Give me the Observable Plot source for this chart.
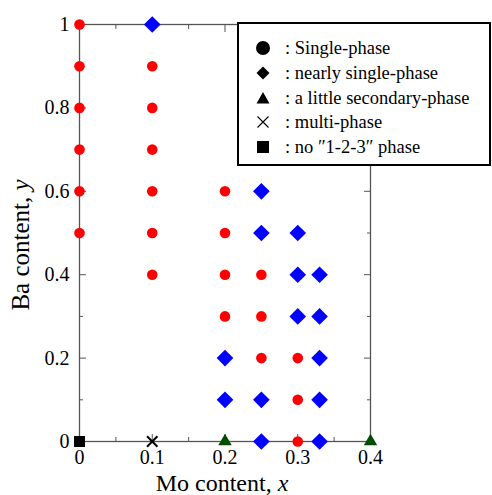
<!DOCTYPE html>
<html>
<head>
<meta charset="utf-8">
<script src="https://cdn.jsdelivr.net/npm/d3@7"></script>
<script src="https://cdn.jsdelivr.net/npm/@observablehq/plot@0.6"></script>
<style>
  body { margin: 0; background: #fff; }
  #wrap { position: relative; width: 492px; height: 495px; overflow: hidden;
          font-family: "Liberation Serif", "Times New Roman", serif; }
  #wrap > svg { position: absolute; left: 0; top: 0; }
  #legend { position: absolute; left: 237px; top: 22px; width: 254px; height: 144px;
            box-sizing: border-box; border: 2px solid #000; background: #fff; }
  .row { position: absolute; left: 0; height: 24px; display: flex; align-items: center;
         font-family: "Liberation Serif", serif; font-size: 18.5px; color: #000; white-space: nowrap; }
  .row svg { display: block; }
</style>
</head>
<body>
<div id="wrap"></div>
<script>
// ---- data (Mo content x, Ba content y) ----
const singlePhase = [
  [0, 0.5], [0, 0.6], [0, 0.7], [0, 0.8], [0, 0.9], [0, 1.0],
  [0.1, 0.4], [0.1, 0.5], [0.1, 0.6], [0.1, 0.7], [0.1, 0.8], [0.1, 0.9],
  [0.2, 0.3], [0.2, 0.4], [0.2, 0.5], [0.2, 0.6],
  [0.25, 0.2], [0.25, 0.3], [0.25, 0.4],
  [0.3, 0.0], [0.3, 0.1], [0.3, 0.2]
];
const nearlySinglePhase = [
  [0.1, 1.0],
  [0.2, 0.1], [0.2, 0.2],
  [0.25, 0.0], [0.25, 0.1], [0.25, 0.5], [0.25, 0.6],
  [0.3, 0.3], [0.3, 0.4], [0.3, 0.5],
  [0.33, 0.0], [0.33, 0.1], [0.33, 0.2], [0.33, 0.3], [0.33, 0.4]
];
const littleSecondaryPhase = [[0.2, 0.0], [0.4, 0.0]];
const multiPhase = [[0.1, 0.0]];
const no123Phase = [[0, 0.0]];

const legendLabels = [": Single-phase", ": nearly single-phase", ": a little secondary-phase", ": multi-phase", ": no \u20331-2-3\u2033 phase"];

const xMajorTicks = [0, 0.1, 0.2, 0.3, 0.4];
const xMinorTicks = [0.05, 0.15, 0.25, 0.35];
const yMajorTicks = [0, 0.2, 0.4, 0.6, 0.8, 1];
const yMinorTicks = [0.1, 0.3, 0.5, 0.7, 0.9];
const xTickLabels = ["0", "0.1", "0.2", "0.3", "0.4"];
const yTickLabels = ["0", "0.2", "0.4", "0.6", "0.8", "1"];

const RED = "#ff0000", BLUE = "#0000ff", GREEN = "#004d00", FRAME = "#555";
const FONT = '"Liberation Serif", "Times New Roman", serif';

const px = d => d[0], py = d => d[1];

const chart = Plot.plot({
  width: 492, height: 495,
  marginLeft: 79, marginRight: 122, marginTop: 24, marginBottom: 54,
  x: { domain: [0, 0.4] },
  y: { domain: [0, 1] },
  style: { fontFamily: FONT, fontSize: "20px", color: "#000", background: "transparent", overflow: "visible" },
  marks: [
    Plot.frame({ stroke: FRAME, strokeWidth: 1.3 }),
    // inward ticks
    Plot.axisY(yMajorTicks, { anchor: "left", tickSize: 7, dx: 7, fill: "none", stroke: FRAME }),
    Plot.axisY(yMinorTicks, { anchor: "left", tickSize: 4, dx: 4, fill: "none", stroke: FRAME }),
    Plot.axisY(yMajorTicks, { anchor: "right", tickSize: 7, dx: -7, fill: "none", stroke: FRAME }),
    Plot.axisY(yMinorTicks, { anchor: "right", tickSize: 4, dx: -4, fill: "none", stroke: FRAME }),
    Plot.axisX(xMajorTicks, { anchor: "bottom", tickSize: 7, dy: -7, fill: "none", stroke: FRAME }),
    Plot.axisX(xMinorTicks, { anchor: "bottom", tickSize: 4, dy: -4, fill: "none", stroke: FRAME }),
    Plot.axisX(xMajorTicks, { anchor: "top", tickSize: 7, dy: 7, fill: "none", stroke: FRAME }),
    Plot.axisX(xMinorTicks, { anchor: "top", tickSize: 4, dy: 4, fill: "none", stroke: FRAME }),
    // tick labels
    Plot.axisY(yMajorTicks, { anchor: "left", tickSize: 0, tickPadding: 10, label: null,
      tickFormat: (d, i) => yTickLabels[i], fontSize: 20 }),
    Plot.axisX(xMajorTicks, { anchor: "bottom", tickSize: 0, tickPadding: 8, label: null,
      tickFormat: (d, i) => xTickLabels[i], fontSize: 20 }),
    // data
    Plot.dot(singlePhase, { x: px, y: py, r: 5.3, fill: RED, symbol: "circle" }),
    Plot.dot(nearlySinglePhase, { x: px, y: py, r: 7.5, fill: BLUE, symbol: "diamond2" }),
    Plot.dot(littleSecondaryPhase, { x: px, y: py, r: 6.4, fill: GREEN, symbol: "triangle2" }),
    Plot.dot(multiPhase, { x: px, y: py, r: 4.8, stroke: "#000", strokeWidth: 2, symbol: "times" }),
    Plot.dot(no123Phase, { x: px, y: py, r: 7, fill: "#000", symbol: "square2" })
  ]
});

const wrap = document.getElementById("wrap");
wrap.appendChild(chart);

// axis titles with italic variable
const svg = d3.select(chart);
const xt = svg.append("text")
  .attr("x", 222).attr("y", 491).attr("text-anchor", "middle")
  .attr("font-family", FONT).attr("font-size", 24).attr("fill", "#000");
xt.append("tspan").text("Mo content, ");
xt.append("tspan").attr("font-style", "italic").text("x");

const yt = svg.append("text")
  .attr("transform", "translate(29,245) rotate(-90)").attr("text-anchor", "middle")
  .attr("font-family", FONT).attr("font-size", 25).attr("fill", "#000");
yt.append("tspan").text("Ba content, ");
yt.append("tspan").attr("font-style", "italic").text("y");

// legend
const legend = document.createElement("div");
legend.id = "legend";
wrap.appendChild(legend);
const symbols = [
  `<circle cx="8" cy="8" r="7" fill="#000"/>`,
  `<path d="M8,1.5L14.5,8L8,14.5L1.5,8Z" fill="#000"/>`,
  `<path d="M8,2L14.5,13.5L1.5,13.5Z" fill="#000"/>`,
  `<path d="M2.5,2.5L13.5,13.5M2.5,13.5L13.5,2.5" stroke="#000" stroke-width="1.1" fill="none"/>`,
  `<rect x="2" y="2" width="12" height="12" fill="#000"/>`
];
const rowCenters = [24, 49, 74, 98, 123];
legendLabels.forEach((lab, i) => {
  const row = document.createElement("div");
  row.className = "row";
  row.style.top = (rowCenters[i] - 12) + "px";
  row.style.left = "16px";
  row.innerHTML = `<svg width="16" height="16">${symbols[i]}</svg><span style="margin-left:14px">${lab}</span>`;
  legend.appendChild(row);
});
</script>
</body>
</html>
